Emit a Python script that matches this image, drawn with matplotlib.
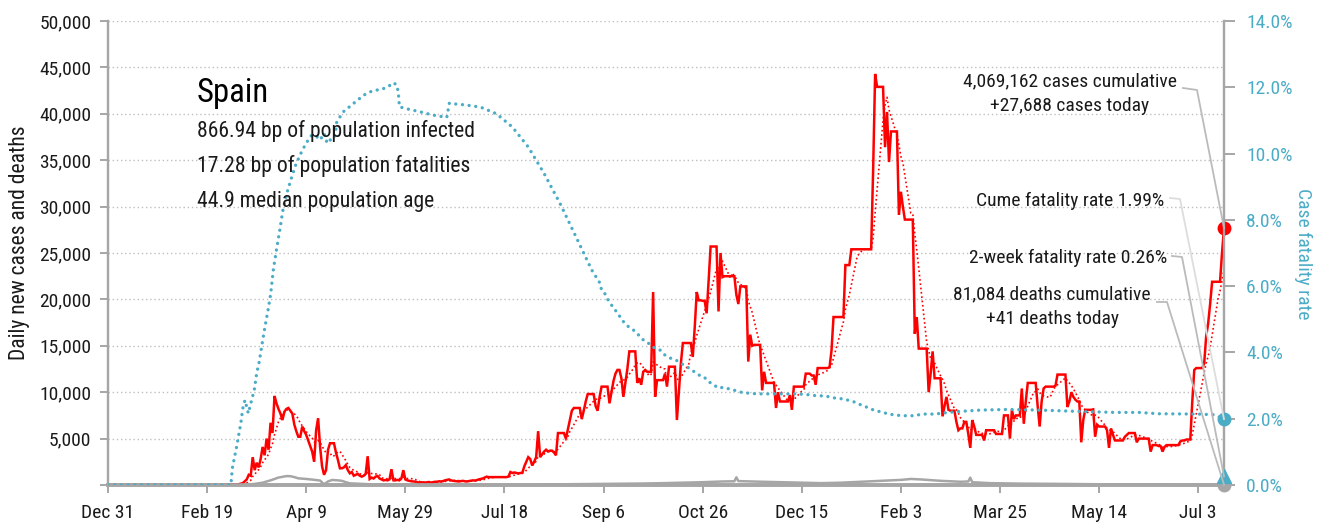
import matplotlib
matplotlib.use("Agg")
import matplotlib.pyplot as plt
from matplotlib.lines import Line2D
from matplotlib.ticker import FuncFormatter
from matplotlib import font_manager
import numpy as np
import pandas as pd

# pick a narrow sans face if one is installed
_narrow = {'ultra-condensed', 'extra-condensed', 'condensed', 'semi-condensed'}
_prefs = ['Roboto Condensed', 'Liberation Sans Narrow', 'Noto Sans',
          'DejaVu Sans', 'Open Sans', 'Arial Narrow']
_found = None
for fam in _prefs:
    for f in font_manager.fontManager.ttflist:
        is_narrow = (f.stretch in _narrow) or ('Narrow' in f.name) or ('Condensed' in f.name)
        if f.name.startswith(fam) and is_narrow and f.style == 'normal' and f.weight in (400, 'normal', 'regular'):
            _found = f
            break
    if _found:
        break

if _found is not None:
    plt.rcParams['font.family'] = [_found.name, 'DejaVu Sans']
    plt.rcParams['font.stretch'] = _found.stretch
else:
    plt.rcParams['font.family'] = ['Roboto', 'DejaVu Sans']

# ---- data -------------------------------------------------------------
# daily new cases, one value per day starting Dec 31, 2019 (day 0)
cases = [
    0, 0, 0, 0, 0, 0, 0, 0, 0, 0,
    0, 0, 0, 0, 0, 0, 0, 0, 0, 0,
    0, 0, 0, 0, 0, 0, 0, 0, 0, 0,
    0, 0, 1, 0, 0, 0, 0, 0, 0, 1,
    0, 0, 0, 0, 0, 0, 0, 0, 0, 0,
    0, 0, 0, 0, 0, 0, 0, 0, 6, 13,
    15, 30, 40, 50, 40, 60, 90, 140, 200, 400,
    600, 1100, 1000, 3000, 1600, 2400, 1900, 2800, 4100, 3200,
    5000, 3800, 6700, 5600, 9600, 8800, 8200, 7700, 7000, 7900,
    8200, 8300, 8000, 7700, 6500, 5800, 5200, 5200, 6300, 5800,
    5400, 4800, 4200, 3600, 2500, 5900, 7200, 4100, 2000, 1100,
    1600, 3800, 4500, 4500, 4500, 3500, 2700, 1800, 1800, 1900,
    2150, 1600, 1260, 1400, 1000, 1100, 1200, 1000, 900, 1000,
    1200, 3100, 650, 800, 700, 900, 970, 700, 600, 500,
    540, 500, 600, 1700, 500, 500, 550, 500, 700, 1600,
    600, 500, 450, 400, 380, 360, 300, 250, 300, 280,
    250, 300, 320, 260, 300, 350, 350, 400, 380, 420,
    500, 550, 600, 500, 450, 420, 400, 380, 420, 450,
    400, 380, 420, 450, 500, 480, 520, 600, 650, 700,
    800, 900, 850, 850, 850, 850, 850, 850, 850, 850,
    850, 850, 900, 1400, 1300, 1350, 1300, 1250, 1300, 1300,
    2000, 2500, 3000, 2800, 2100, 2500, 3000, 5800, 3000, 3300,
    3600, 3800, 3600, 3700, 3700, 3500, 3200, 5600, 5600, 5600,
    5600, 5000, 6000, 7000, 8000, 8300, 8300, 8300, 8300, 7100,
    8000, 9000, 9800, 9800, 9800, 9800, 8500, 8000, 9500, 10600,
    10600, 10600, 10600, 8800, 10000, 11200, 12000, 12400, 12400, 11500,
    9500, 11000, 12500, 14400, 14400, 14400, 14400, 11000, 11500, 10800,
    12200, 12400, 12200, 12200, 12200, 20800, 9500, 11300, 11300, 11300,
    11300, 12000, 10600, 12750, 12750, 12750, 12750, 7000, 10000, 13100,
    15300, 15300, 15300, 15300, 15300, 13800, 17000, 20800, 19900, 19900,
    19850, 19850, 18500, 22000, 25700, 25700, 25700, 25700, 18700, 25000,
    22400, 22500, 22500, 22500, 22500, 22500, 22500, 20500, 19500, 21400,
    21400, 21400, 21400, 13300, 16200, 15000, 15100, 15100, 15100, 15100,
    10200, 12200, 11000, 11000, 11000, 11000, 11000, 8300, 10000, 9000,
    9000, 9000, 9000, 9000, 9700, 8100, 10600, 10600, 10600, 10600,
    10600, 10600, 12000, 12000, 12000, 11800, 11800, 10800, 12600, 12600,
    12600, 12600, 12600, 12600, 12700, 14500, 18100, 18100, 18100, 18100,
    18100, 18100, 23700, 23700, 23700, 25400, 25400, 25400, 25400, 25400,
    25400, 25400, 25400, 25400, 25400, 25400, 34000, 44300, 42900, 42900,
    42900, 42900, 36400, 40200, 34800, 38100, 38100, 38100, 38100, 29100,
    31600, 30000, 28600, 28600, 28600, 28600, 28600, 16300, 18100, 14700,
    14700, 14700, 14700, 14700, 10000, 12000, 14400, 11500, 11500, 11500,
    11500, 7400, 8500, 9500, 8100, 8000, 8000, 8000, 6800, 5900,
    6100, 6100, 6800, 6800, 5500, 4000, 7000, 6300, 5400, 5400,
    5400, 5400, 4800, 5900, 5900, 5900, 5900, 5900, 5500, 5500,
    5500, 5500, 7500, 7500, 7500, 5000, 8100, 7100, 7500, 7500,
    7500, 10400, 6600, 9000, 11000, 11000, 11000, 11000, 11000, 8500,
    6300, 9000, 10400, 10600, 10600, 10600, 10600, 10600, 10700, 11900,
    11900, 11900, 11900, 11900, 8400, 9000, 10000, 9500, 9200, 9000,
    9000, 4600, 7000, 8100, 8100, 8100, 8100, 8150, 5200, 6500,
    6300, 6300, 6300, 6300, 5900, 4000, 6100, 5400, 4800, 4800,
    4800, 4800, 4800, 5200, 5400, 5600, 5600, 5600, 5600, 4600,
    5000, 5000, 5000, 5000, 5000, 5000, 3600, 4300, 4300, 4300,
    4200, 4200, 3600, 4100, 4300, 4300, 4300, 4300, 4300, 4300,
    4300, 4700, 4800, 4800, 4900, 4900, 4900, 9000, 12400, 12600,
    12600, 12600, 12600, 13100, 16000, 17400, 19500, 21900, 21900, 21900,
    21900, 21900, 25000, 27688,
]

# daily deaths (day, value)
death_days = [0, 62, 66, 70, 74, 78, 82, 86, 90, 92, 94, 96, 100, 104, 107,
              109, 111, 113, 116, 118, 120, 122, 125, 130, 135, 140, 145,
              146, 150, 160, 180, 200, 210, 220, 230, 240, 250, 260, 270,
              280, 290, 300, 310, 316, 317, 318, 330, 340, 350, 360, 370,
              380, 390, 400, 405, 410, 420, 430, 434, 435, 436, 445, 460,
              480, 500, 520, 540, 563]
death_vals = [0, 0, 5, 30, 120, 250, 500, 800, 960, 950, 850, 720, 650, 560,
              480, 80, 380, 540, 500, 450, 300, 180, 150, 100, 60, 40, 30,
              0, 20, 20, 15, 10, 20, 50, 80, 100, 120, 140, 160, 200, 250,
              300, 380, 400, 830, 420, 350, 300, 250, 200, 250, 350, 450,
              550, 650, 600, 450, 350, 380, 790, 300, 200, 150, 120, 80, 60,
              40, 41]

# case fatality rate in percent (day, value)
cfr_days = [0, 62, 62.7, 64.9, 67, 68, 69.1, 70.8, 71.6, 73.8, 75, 76.3,
            77.5, 79.2, 80.9, 82.1, 83.4, 85.1, 86.8, 88.1, 90.2, 92.2,
            94.3, 96.9, 99.9, 102.8, 105.3, 107, 109, 110.6, 112.9, 114.5,
            115.4, 118.7, 123, 127.1, 130.5, 133.9, 138.1, 141.4, 143.9,
            145.7, 146.5, 147, 151.5, 157.4, 164.1, 170.9, 172.2, 176, 180,
            188, 196, 204, 212, 220, 228, 236, 244, 248.2, 249, 250.6, 252.3,
            254, 256.5, 260, 262.5, 265, 267.6, 270, 272.6, 276, 278.5, 281,
            284, 286.5, 289, 292, 294.5, 298, 300.5, 303, 305.5, 308.3,
            310.4, 313.8, 317.2, 320.5, 324, 327, 334, 341, 347.5, 354.2,
            357.5, 361, 364, 367.7, 371, 374.4, 377.4, 380, 383.6, 387, 390,
            393.7, 400.4, 407, 410.5, 417, 424, 427, 440, 454, 470, 490, 508,
            520, 530, 550, 558, 563]
cfr_vals = [0, 0, 0.50, 1.16, 1.86, 2.31, 2.56, 2.16, 2.36, 2.87, 3.37, 3.72,
            4.17, 4.78, 5.33, 5.78, 6.49, 7.14, 7.74, 8.25, 8.80, 9.20, 9.60,
            9.96, 10.31, 10.56, 10.51, 10.41, 10.61, 10.31, 10.46, 10.51,
            10.96, 11.26, 11.47, 11.67, 11.82, 11.90, 11.94, 12.02, 12.14,
            12.07, 11.82, 11.41, 11.34, 11.26, 11.16, 11.09, 11.52, 11.49,
            11.47, 11.40, 11.20, 10.80, 10.20, 9.40, 8.50, 7.50, 6.49, 6.09,
            5.88, 5.78, 5.58, 5.43, 5.23, 4.93, 4.78, 4.68, 4.53, 4.38, 4.28,
            4.12, 4.07, 3.92, 3.82, 3.77, 3.67, 3.57, 3.47, 3.32, 3.27, 3.12,
            3.02, 2.92, 2.95, 2.89, 2.84, 2.78, 2.77, 2.75, 2.75, 2.75, 2.75,
            2.72, 2.69, 2.69, 2.66, 2.61, 2.60, 2.54, 2.49, 2.41, 2.33, 2.24,
            2.21, 2.14, 2.09, 2.09, 2.14, 2.14, 2.19, 2.21, 2.26, 2.28, 2.26,
            2.22, 2.19, 2.19, 2.15, 2.14, 2.12, 1.99]

two_week_cfr = 0.26
tick_days = [0, 50, 100, 150, 200, 250, 300, 350, 400, 450, 500, 550]
tick_labels = ['Dec 31', 'Feb 19', 'Apr 9', 'May 29', 'Jul 18', 'Sep 6',
               'Oct 26', 'Dec 15', 'Feb 3', 'Mar 25', 'May 14', 'Jul 3']

stats_lines = ['866.94 bp of population infected',
               '17.28 bp of population fatalities',
               '44.9 median population age']

# ---- styling ----------------------------------------------------------
RED = '#FF0000'
CYAN = '#4BACC6'
GREY = '#A6A6A6'
GRID = '#BFBFBF'
TXT = '#1a1a1a'

W, H = 1324, 523
fig = plt.figure(figsize=(W / 100, H / 100), dpi=100)
ax = fig.add_axes([108 / W, 1 - 485 / H, (1224 - 108) / W, (485 - 21) / H])
ax2 = ax.twinx()

days = np.arange(len(cases))
cases_s = pd.Series(cases, index=days, dtype=float)
avg7 = cases_s.rolling(7, min_periods=1).mean()
last = days[-1]

ax.plot(days, cases_s.values, color=RED, lw=1.8, zorder=4, solid_joinstyle='miter')
ax.plot(days, avg7.values, color=RED, lw=1.2, ls=(0, (1, 1.6)), zorder=3)
ax.plot(death_days, death_vals, color=GREY, lw=1.8, zorder=3)

ax2.plot(cfr_days, cfr_vals, color=CYAN, lw=2.4, ls=(0, (0.01, 2.0)),
         dash_capstyle='round', zorder=3)

# end-of-series markers
ax.plot([last], [cases[-1]], 'o', color=RED, ms=9, clip_on=False, zorder=6)
ax.plot([last], [death_vals[-1]], 'o', color=GREY, ms=9, clip_on=False, zorder=6)
ax2.plot([last], [cfr_vals[-1]], 'o', color=CYAN, ms=9, clip_on=False, zorder=6)
ax2.plot([last], [two_week_cfr], '^', color=CYAN, ms=10, clip_on=False, zorder=6)

# axes limits and ticks
ax.set_xlim(0, last)
ax.set_ylim(0, 50000)
ax2.set_ylim(0, 14)
ax.set_xticks(tick_days)
ax.set_xticklabels(tick_labels)
ax.set_yticks(np.arange(0, 50001, 5000))
ax.yaxis.set_major_formatter(FuncFormatter(lambda v, p: '' if v == 0 else f'{int(v):,}'))
ax2.set_yticks(np.arange(0, 14.01, 2))
ax2.yaxis.set_major_formatter(FuncFormatter(lambda v, p: f'{v:.1f}%'))

ax.yaxis.grid(True, color=GRID, lw=1.0, ls=(0, (1, 2)))
ax.set_axisbelow(True)

for a in (ax, ax2):
    a.spines['top'].set_visible(False)
    for s in ('left', 'right'):
        a.spines[s].set_color(GREY)
        a.spines[s].set_linewidth(1.6)
    a.spines['bottom'].set_color(GREY)
    a.spines['bottom'].set_linewidth(2.6)

ax.tick_params(axis='y', length=6, width=1.4, color=GREY, labelsize=14,
               labelcolor=TXT, pad=6)
ax.tick_params(axis='x', length=6, width=1.4, color=GREY, labelsize=14,
               labelcolor=TXT, pad=8)
ax2.tick_params(axis='y', length=8, width=1.4, color=GREY, labelsize=14,
                labelcolor=CYAN, pad=8)

# ---- text blocks --------------------------------------------------------
def fx(px):
    return px / W


def fy(py):
    return 1 - py / H


fig.text(fx(20), fy(243), 'Daily new cases and deaths', fontsize=15.5,
         color=TXT, rotation=90, ha='center', va='center')
fig.text(fx(1303), fy(254), 'Case fatality rate', fontsize=14,
         color=CYAN, rotation=270, ha='center', va='center')

fig.text(fx(197), fy(102), 'Spain', fontsize=23.5, color='black', va='baseline')
for i, line in enumerate(stats_lines):
    fig.text(fx(197), fy(137 + 35 * i), line, fontsize=15.6, color=TXT,
             va='baseline')

fig.text(fx(1070), fy(86), '4,069,162 cases cumulative', fontsize=14,
         ha='center', va='baseline', color=TXT)
fig.text(fx(1070), fy(111), '+27,688 cases today', fontsize=14,
         ha='center', va='baseline', color=TXT)
fig.text(fx(1164), fy(206), 'Cume fatality rate 1.99%', fontsize=14,
         ha='right', va='baseline', color=TXT)
fig.text(fx(1167), fy(263), '2-week fatality rate 0.26%', fontsize=14,
         ha='right', va='baseline', color=TXT)
fig.text(fx(1052), fy(299), '81,084 deaths cumulative', fontsize=14,
         ha='center', va='baseline', color=TXT)
fig.text(fx(1052), fy(324), '+41 deaths today', fontsize=14,
         ha='center', va='baseline', color=TXT)

# leader lines from the labels to the end markers
def leader(p0, p1, axis, xy, color):
    disp = axis.transData.transform(xy)
    end = fig.transFigure.inverted().transform(disp)
    xs = [fx(p0[0]), fx(p1[0]), end[0]]
    ys = [fy(p0[1]), fy(p1[1]), end[1]]
    fig.add_artist(Line2D(xs, ys, transform=fig.transFigure, color=color,
                          lw=1.3, zorder=5))


leader((1183, 88), (1197, 90), ax, (last, cases[-1]), '#BBBBBB')
leader((1170, 198), (1180, 199), ax2, (last, cfr_vals[-1]), '#DDDDDD')
leader((1172, 256), (1182, 257), ax2, (last, two_week_cfr), '#BBBBBB')
leader((1157, 302), (1167, 302), ax, (last, death_vals[-1]), '#BBBBBB')

fig.savefig('out.png', dpi=100)
